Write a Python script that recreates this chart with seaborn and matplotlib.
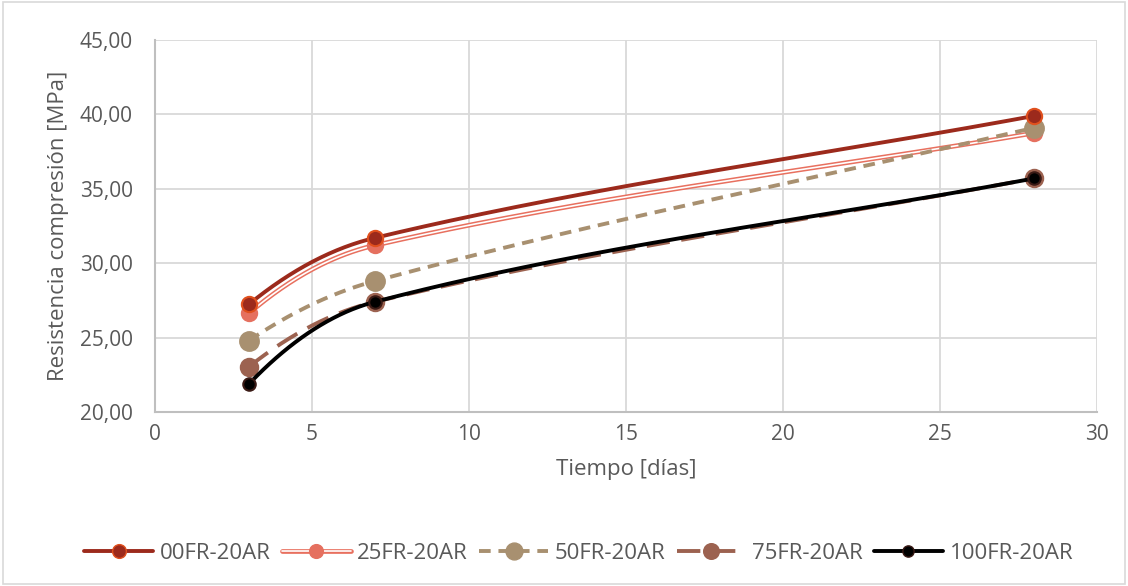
import numpy as np
import pandas as pd
import matplotlib
matplotlib.use("Agg")
import matplotlib.pyplot as plt
from matplotlib.lines import Line2D
from matplotlib.legend_handler import HandlerTuple
from matplotlib.ticker import FuncFormatter
import seaborn as sns

# Compressive strength test results
dias = [3, 7, 28]
fr00 = [27.25, 31.70, 39.90]
fr25 = [26.65, 31.20, 38.75]
fr50 = [24.80, 28.80, 39.10]
fr75 = [23.05, 27.40, 35.70]
fr100 = [21.90, 27.40, 35.70]

series_names = ["00FR-20AR", "25FR-20AR", "50FR-20AR", "75FR-20AR", "100FR-20AR"]
series_vals = [fr00, fr25, fr50, fr75, fr100]

x_ticks = [0, 5, 10, 15, 20, 25, 30]
y_ticks = [20, 25, 30, 35, 40, 45]

sns.set_theme(style="white")
plt.rcParams["font.family"] = ["Open Sans", "DejaVu Sans"]


def smooth_curve(xs, ys, n=80):
    """Piecewise cubic Hermite curve through the points (smoothed line)."""
    x = np.asarray(xs, float)
    y = np.asarray(ys, float)
    chords = np.diff(y) / np.diff(x)
    m = np.zeros_like(x)
    for i in range(1, len(x) - 1):
        m[i] = (y[i + 1] - y[i - 1]) / (x[i + 1] - x[i - 1])
    m[0] = 2 * chords[0] - m[1]
    m[-1] = chords[-1]
    out_x, out_y = [], []
    for i in range(len(x) - 1):
        h = x[i + 1] - x[i]
        t = np.linspace(0, 1, n)
        h00 = 2 * t ** 3 - 3 * t ** 2 + 1
        h10 = t ** 3 - 2 * t ** 2 + t
        h01 = -2 * t ** 3 + 3 * t ** 2
        h11 = t ** 3 - t ** 2
        yy = h00 * y[i] + h10 * h * m[i] + h01 * y[i + 1] + h11 * h * m[i + 1]
        xx = x[i] + t * h
        if i > 0:
            xx, yy = xx[1:], yy[1:]
        out_x.append(xx)
        out_y.append(yy)
    return np.concatenate(out_x), np.concatenate(out_y)


styles = {
    "00FR-20AR": dict(color="#9C2A1C", lw=2.8, ls="-", mfc="#9C2A1C", mec="#E0501E", ms=11),
    "25FR-20AR": dict(color="#E8705F", lw=3.4, ls="-", mfc="#E5705F", mec="#E5705F", ms=11, double=True),
    "50FR-20AR": dict(color="#A89070", lw=2.8, ls=(0, (3, 2)), mfc="#A89070", mec="#A89070", ms=13.5),
    "75FR-20AR": dict(color="#9C6250", lw=2.8, ls=(0, (6, 3)), mfc="#9C6250", mec="#9C6250", ms=12.5),
    "100FR-20AR": dict(color="#000000", lw=2.8, ls="-", mfc="#000000", mec="#3A1A15", ms=9),
}

fig = plt.figure(figsize=(11.28, 5.86), dpi=100)
ax = fig.add_axes([0.1374, 0.297, 0.8351, 0.6347])

draw_order = ["75FR-20AR", "100FR-20AR", "25FR-20AR", "50FR-20AR", "00FR-20AR"]
for k, name in enumerate(draw_order):
    vals = series_vals[series_names.index(name)]
    st = styles[name]
    sx, sy = smooth_curve(dias, vals)
    curve = pd.DataFrame({"x": sx, "y": sy})
    z = 3 + k
    sns.lineplot(data=curve, x="x", y="y", ax=ax, color=st["color"], lw=st["lw"],
                 linestyle=st["ls"], sort=False, estimator=None, zorder=z)
    if st.get("double"):
        sns.lineplot(data=curve, x="x", y="y", ax=ax, color="white", lw=1.2,
                     sort=False, estimator=None, zorder=z + 0.1)
    pts = pd.DataFrame({"x": dias, "y": vals})
    sns.scatterplot(data=pts, x="x", y="y", ax=ax, color=st["mfc"], edgecolor=st["mec"],
                    linewidth=1.5, s=st["ms"] ** 2, zorder=z + 0.2)

ax.set_xlim(0, 30)
ax.set_ylim(20, 45)
ax.set_xticks(x_ticks)
ax.set_yticks(y_ticks)
ax.yaxis.set_major_formatter(FuncFormatter(lambda v, p: f"{v:.2f}".replace(".", ",")))
ax.xaxis.set_major_formatter(FuncFormatter(lambda v, p: f"{int(v)}"))
ax.grid(True, color="#D9D9D9", lw=1.3)
ax.set_axisbelow(True)
for s in ["top", "right"]:
    ax.spines[s].set_visible(False)
for s in ["left", "bottom"]:
    ax.spines[s].set_color("#BFBFBF")
    ax.spines[s].set_linewidth(1.5)
ax.tick_params(axis="both", colors="#595959", labelsize=15, length=0)
ax.tick_params(axis="x", pad=9)
ax.tick_params(axis="y", pad=16)
ax.set_xlabel("Tiempo [días]", fontsize=16, color="#595959", labelpad=10)
ax.set_ylabel("Resistencia compresión [MPa]", fontsize=16, color="#595959", labelpad=8)

# Legend entries; the 25FR entry uses a white core over the pink line
handles = []
for name in series_names:
    st = styles[name]
    line = Line2D([0], [0], color=st["color"], lw=st["lw"], linestyle=st["ls"])
    mark = Line2D([0], [0], lw=0, marker="o", markersize=st["ms"] * 0.9,
                  markerfacecolor=st["mfc"], markeredgecolor=st["mec"])
    if st.get("double"):
        core = Line2D([0], [0], color="white", lw=1.2)
        handles.append((line, core, mark))
    else:
        handles.append((line, mark))
fig.legend(handles, series_names, loc="center", bbox_to_anchor=(0.513, 0.056), ncol=5,
           frameon=False, fontsize=16, labelcolor="#595959", handlelength=3.1,
           columnspacing=0.5, handletextpad=0.3,
           handler_map={tuple: HandlerTuple(ndivide=1, pad=0)})

border = plt.Rectangle((0.003, 0.003), 0.994, 0.994, transform=fig.transFigure,
                       fill=False, edgecolor="#D9D9D9", lw=1.2)
fig.patches.append(border)

fig.savefig("out.png", dpi=100)
